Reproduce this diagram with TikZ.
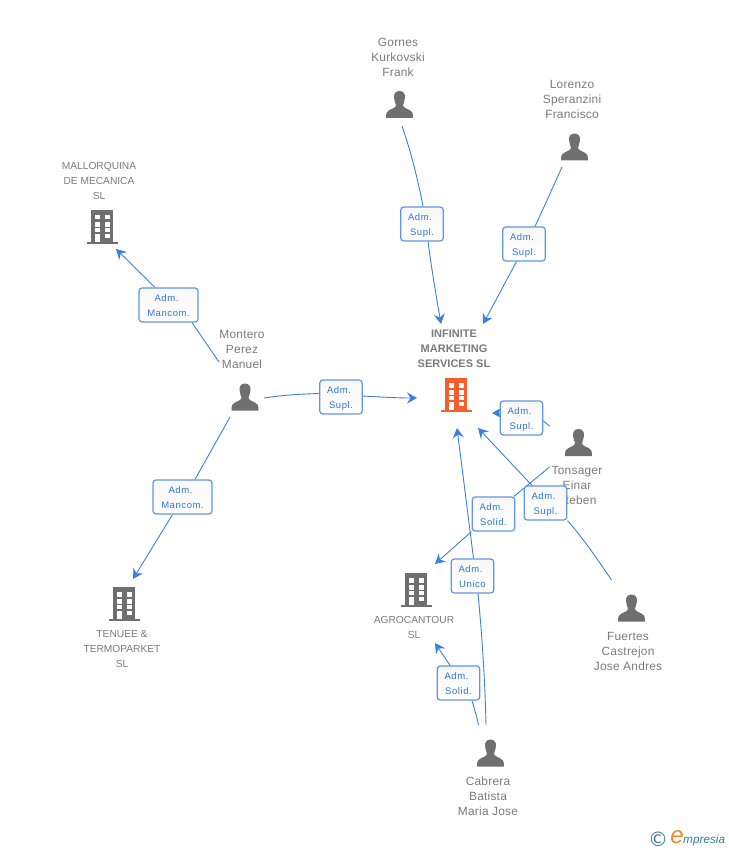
\documentclass[tikz,border=0pt]{standalone}
\usepackage{fontspec}
\setmainfont{Liberation Sans}
\newfontfamily\boxfont[LetterSpace=6]{Liberation Sans}
\newfontfamily\persfont[LetterSpace=2]{Liberation Sans}
\newfontfamily\dejavu{DejaVu Sans}
\usetikzlibrary{arrows.meta,backgrounds}
\definecolor{lnk}{HTML}{3B80E0}
\definecolor{brd}{HTML}{5F97E2}
\definecolor{txtb}{HTML}{2F74D4}
\definecolor{grayt}{HTML}{7A7A7A}
\definecolor{icon}{HTML}{6F6F6F}
\definecolor{hot}{HTML}{F95D2E}
\definecolor{teal}{HTML}{3F7F96}
\definecolor{orng}{HTML}{F08A24}
\newcommand{\admline}{Adm.\hspace*{4pt}}
\tikzset{
  persontxt/.style={text=grayt,align=center,inner sep=0pt,font=\persfont\fontsize{11.9}{15}\selectfont},
  comptxt/.style={text=grayt,align=center,inner sep=0pt,font=\fontsize{10.2}{15}\selectfont},
  hometxt/.style={text=grayt,align=center,inner sep=0pt,font=\fontsize{11}{15}\selectfont\bfseries},
  rolebox/.style={draw=brd,line width=1.2pt,top color=black!3,bottom color=white,rounded corners=3pt,text=txtb,align=center,
    inner sep=0pt,minimum height=34pt,text height=25pt,text depth=2pt,font=\boxfont\fontsize{9.5}{15}\selectfont},
  narrowbox/.style={rolebox,minimum width=42.5pt},
  widebox/.style={rolebox,minimum width=59pt},
  link/.style={draw=lnk,line width=0.9pt},
  linkarrow/.style={link,-{Stealth[length=10pt,width=11pt,inset=3.5pt]}},
  pics/person/.style={code={
    \fill[icon] (0,-13.5) .. controls (-4,-13.5) and (-5.7,-10.5) .. (-5.5,-7)
      .. controls (-5.3,-3.5) and (-4,-1.5) .. (-3.5,0.5)
      .. controls (-3.5,3) and (-7,4) .. (-10,5.5)
      .. controls (-12.5,6.5) and (-13.5,8) .. (-13.5,13.5)
      -- (13.5,13.5)
      .. controls (13.5,8) and (12.5,6.5) .. (10,5.5)
      .. controls (7,4) and (3.5,3) .. (3.5,0.5)
      .. controls (4,-1.5) and (5.3,-3.5) .. (5.5,-7)
      .. controls (5.7,-10.5) and (4,-13.5) .. (0,-13.5) -- cycle;
  }},
  pics/tower/.style={code={
    \fill[#1] (-11,-17) rectangle (11,15);
    \fill[#1] (-15.5,14.5) rectangle (15.5,17);
    \foreach \yy/\hh in {-12/4.5,-5/4.5,1/4}{
      \fill[white] (-7.5,\yy) rectangle +(5,\hh);
      \fill[white] (2.5,\yy) rectangle +(5,\hh);
    }
    \fill[white] (-7.5,7) rectangle (-2.5,14.5);
    \fill[white] (2.5,7) rectangle (7.5,11);
  }},
}
\begin{document}
\begin{tikzpicture}[x=1pt,y=-1pt]
\useasboundingbox (0,0) rectangle (728,850);
% icons
\pic at (399.5,104.5) {person};
\pic at (574.5,147) {person};
\pic at (245,397) {person};
\pic at (578.5,442.5) {person};
\pic at (631.5,608) {person};
\pic at (490.5,753) {person};
\pic at (456,395) {tower=hot};
\pic at (102,227) {tower=icon};
\pic at (124,604) {tower=icon};
\pic at (416,590) {tower=icon};
% labels
\node[persontxt] (gornes) at (398,57) {Gornes\\Kurkovski\\Frank};
\node[persontxt] (lorenzo) at (572,99) {Lorenzo\\Speranzini\\Francisco};
\node[comptxt] (mallorquina) at (99,181) {MALLORQUINA\\DE MECANICA\\SL};
\node[persontxt] (montero) at (242,349) {Montero\\Perez\\Manuel};
\node[hometxt] (infinite) at (454,349) {INFINITE\\MARKETING\\SERVICES SL};
\node[persontxt] (tonsager) at (577,485) {Tonsager\\Einar\\Steben};
\node[persontxt] (fuertes) at (628,651) {Fuertes\\Castrejon\\Jose Andres};
\node[persontxt] (cabrera) at (488,796) {Cabrera\\Batista\\Maria Jose};
\node[comptxt] (tenuee) at (122,649) {TENUEE \&\\TERMOPARKET\\SL};
\node[comptxt] (agro) at (414,627) {AGROCANTOUR\\SL};
% role boxes
\node[narrowbox] (b1) at (422,224) {\admline\\Supl.};
\node[narrowbox] (b2) at (524,244) {\admline\\Supl.};
\node[widebox] (b3) at (168.5,305) {\admline\\Mancom.};
\node[narrowbox] (b4) at (341,397) {\admline\\Supl.};
\node[widebox] (b5) at (182.5,497) {\admline\\Mancom.};
\node[narrowbox] (b6) at (521.5,418) {\admline\\Supl.};
\node[narrowbox] (b7) at (493.5,514) {\admline\\Solid.};
\node[narrowbox] (b8) at (545.5,503) {\admline\\Supl.};
\node[narrowbox] (b9) at (472.5,576) {\admline\\Unico};
\node[narrowbox] (b10) at (458.5,683) {\admline\\Solid.};
% connector ends
\coordinate (gornesOut) at (402,126);
\coordinate (lorenzoOut) at (562,167);
\coordinate (monteroUp) at (219,362);
\coordinate (monteroRight) at (264,398);
\coordinate (monteroDown) at (230,417);
\coordinate (tonsagerUp) at (549.5,426);
\coordinate (tonsagerDown) at (549.5,467);
\coordinate (fuertesOut) at (611.5,580);
\coordinate (cabreraA) at (486,725);
\coordinate (cabreraB) at (478.5,725);
\coordinate (infA) at (441,324);
\coordinate (infB) at (483,324);
\coordinate (infC) at (417,398);
\coordinate (infD) at (492,413);
\coordinate (infE) at (478,428);
\coordinate (infF) at (457,428);
\coordinate (mallIn) at (116,249);
\coordinate (tenIn) at (133,579);
\coordinate (agroA) at (435,564);
\coordinate (agroB) at (435,643);
\begin{scope}[on background layer]
\draw[link] (gornesOut) .. controls (411,152) and (418,180) .. ([xshift=1pt]b1.north);
\draw[linkarrow] ([xshift=6pt]b1.south) .. controls (431,265) and (436,295) .. (infA);
\draw[link] (lorenzoOut) .. controls (553,187) and (544,207) .. ([xshift=11pt]b2.north);
\draw[linkarrow] ([xshift=-7.5pt]b2.south) -- (infB);
\draw[link] (monteroUp) -- ([xshift=23.5pt]b3.south);
\draw[linkarrow] ([xshift=-13.5pt]b3.north) -- (mallIn);
\draw[link] (monteroRight) .. controls (283,395) and (302,394) .. ([yshift=3.5pt]b4.west);
\draw[linkarrow] ([yshift=1pt]b4.east) .. controls (380,397) and (398,398) .. (infC);
\draw[link] (monteroDown) -- ([xshift=12.5pt]b5.north);
\draw[linkarrow] ([xshift=-10pt]b5.south) -- (tenIn);
\draw[link] (tonsagerUp) -- ([yshift=-3pt]b6.east);
\draw[linkarrow] ([yshift=5pt]b6.west) -- (infD);
\draw[link] (tonsagerDown) -- ([xshift=20.5pt]b7.north);
\draw[linkarrow] ([xshift=-22pt]b7.south) -- (agroA);
\draw[link] (fuertesOut) .. controls (598,560) and (583,538) .. ([xshift=22pt]b8.south);
\draw[linkarrow] ([xshift=-13.5pt]b8.north) -- (infE);
\draw[link] (cabreraA) .. controls (485,680) and (482,635) .. ([xshift=5.5pt]b9.south);
\draw[linkarrow] ([xshift=1pt]b9.north) -- (infF);
\draw[link] (cabreraB) .. controls (477,717) and (474,708) .. ([xshift=13.5pt]b10.south);
\draw[linkarrow] ([xshift=-8.5pt]b10.north) -- (agroB);
\end{scope}
% logo
\node[inner sep=0pt,text=teal,font=\dejavu\fontsize{20}{20}\selectfont] (copyr) at (658,839) {©};
\node[inner sep=0pt,text=orng,font=\fontsize{24}{24}\selectfont\itshape] (logoe) at (677,837) {e};
\node[inner sep=0pt,text=teal,anchor=west,font=\fontsize{11.8}{12}\selectfont\itshape] (logow) at (683,840) {mpresia};
\end{tikzpicture}
\end{document}
